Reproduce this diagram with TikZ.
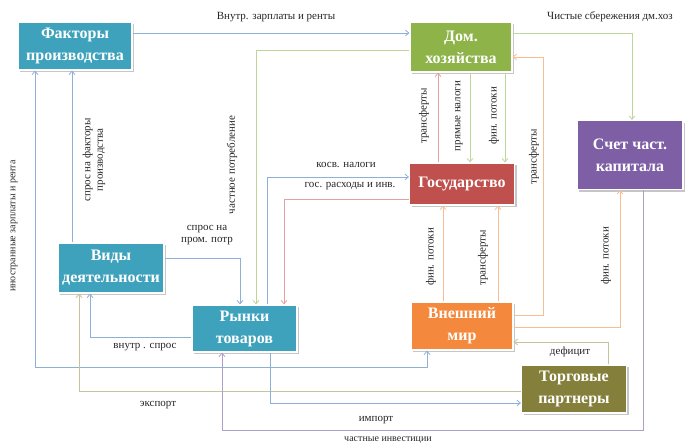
\documentclass[tikz,border=0pt]{standalone}
\usepackage{fontspec}
\setmainfont{Liberation Serif}
\usetikzlibrary{arrows.meta,shadows}
\definecolor{tealbox}{HTML}{3FA2BC}
\definecolor{greenbox}{HTML}{8DB349}
\definecolor{redbox}{HTML}{C0504D}
\definecolor{purplebox}{HTML}{7E5FA6}
\definecolor{orangebox}{HTML}{F4893E}
\definecolor{olivebox}{HTML}{857F3C}
\definecolor{blueln}{HTML}{8EAFD6}
\definecolor{greenln}{HTML}{C0D59A}
\definecolor{redln}{HTML}{E0A3A2}
\definecolor{orangeln}{HTML}{F8BE93}
\definecolor{purpleln}{HTML}{ADA0C8}
\definecolor{oliveln}{HTML}{C6C29C}
\begin{document}
\begin{tikzpicture}[x=1pt,y=-1pt,
  box/.style={draw=white,line width=1.2pt,inner sep=0pt,align=center,text=white,
    font=\fontsize{16}{22}\selectfont\bfseries,
    drop shadow={shadow xshift=2pt,shadow yshift=-2pt,opacity=0.45}},
  lbl/.style={font=\fontsize{11}{12.5}\selectfont,text=black!85,inner sep=1pt,align=center},
  vlbl/.style={lbl,rotate=90},
  ln/.style={line width=0.8pt,-{Straight Barb[length=3.5pt,width=6pt]}},
  blue/.style={ln,draw=blueln},
  green/.style={ln,draw=greenln},
  red/.style={ln,draw=redln},
  orange/.style={ln,draw=orangeln},
  purple/.style={ln,draw=purpleln},
  olive/.style={ln,draw=oliveln}]
\useasboundingbox (0,0) rectangle (686,445);
% boxes
\node[box,fill=tealbox,minimum width=114pt,minimum height=48pt] (fak) at (75,46) {Факторы\\производства};
\node[box,fill=greenbox,minimum width=102pt,minimum height=50pt] (dom) at (461,47) {Дом.\\хозяйства};
\node[box,fill=redbox,minimum width=105pt,minimum height=42pt] (gos) at (462,184) {Государство};
\node[box,fill=purplebox,minimum width=106pt,minimum height=69pt] (sch) at (630,155) {Счет част.\\капитала};
\node[box,fill=tealbox,minimum width=106pt,minimum height=50pt] (vid) at (111,268) {Виды\\деятельности};
\node[box,fill=tealbox,minimum width=105pt,minimum height=47pt] (ryn) at (244.5,328.5) {Рынки\\товаров};
\node[box,fill=orangebox,minimum width=102pt,minimum height=48pt] (vne) at (462,326) {Внешний\\мир};
\node[box,fill=olivebox,minimum width=105pt,minimum height=48pt] (tor) at (574,389) {Торговые\\партнеры};
% connectors
\draw[blue] (fak.east |- 0,33) -- (dom.west |- 0,33);
\draw[green] (dom.west |- 0,50) -| (ryn.north -| 256,0);
\draw[green] (dom.east |- 0,33) -| (sch.north -| 632,0);
\draw[red] (gos.north -| 438,0) -- (dom.south -| 438,0);
\draw[green] (dom.south -| 470,0) -- (gos.north -| 470,0);
\draw[green] (dom.south -| 505,0) -- (gos.north -| 505,0);
\draw[orange] (vne.east |- 0,315) -- ++(30,0) |- (dom.east |- 0,57);
\draw[orange] (vne.east |- 0,327) -| (sch.south -| 620,0);
\draw[orange] (vne.north -| 443,0) -- (gos.south -| 443,0);
\draw[orange] (vne.north -| 498,0) -- (gos.south -| 498,0);
\draw[blue] (ryn.north -| 267,0) |- (gos.west |- 0,177);
\draw[red] (gos.west |- 0,199) -| (ryn.north -| 284,0);
\draw[blue] (vid.east |- 0,258) -| (ryn.north -| 240,0);
\draw[blue] (ryn.west |- 0,337) -| (vid.south -| 90,0);
\draw[blue] (vid.north -| 72,0) -- (fak.south -| 72,0);
\draw[blue,{Straight Barb[length=3.5pt,width=6pt]}-{Straight Barb[length=3.5pt,width=6pt]}]
  (fak.south -| 35,0) -- (35,367) -| (vne.south -| 427,0);
\draw[olive] (tor.west |- 0,391) -| (vid.south -| 79,0);
\draw[blue] (ryn.south -| 270,0) |- (tor.west |- 0,403);
\draw[purple] (sch.south -| 643,0) -- (643,430) -| (ryn.south -| 222,0);
\draw[olive] (tor.north -| 608,0) |- (vne.east |- 0,342);
% labels
\node[lbl] (l1) at (276,17) {Внутр. зарплаты и ренты};
\node[lbl] (l2) at (610,17) {Чистые сбережения дм.хоз};
\node[vlbl,font=\fontsize{10}{11}\selectfont] (l3) at (14,226) {иностранные зарплаты и рента};
\node[vlbl] (l4) at (94,160) {спрос на факторы\\производства};
\node[vlbl] (l5) at (232,165) {частное потребление};
\node[vlbl] (l6) at (424,116) {трансферты};
\node[vlbl] (l7) at (459,116) {прямые налоги};
\node[vlbl] (l8) at (494,116) {фин. потоки};
\node[vlbl] (l9) at (534,157) {трансферты};
\node[vlbl] (l10) at (431,257) {фин. потоки};
\node[vlbl] (l11) at (483,258) {трансферты};
\node[vlbl] (l12) at (606,256) {фин. потоки};
\node[lbl] (l13) at (346,165) {косв. налоги};
\node[lbl] (l14) at (350,186) {гос. расходы и инв.};
\node[lbl] (l15) at (207,235) {спрос на\\пром. потр};
\node[lbl] (l16) at (145,347) {внутр . спрос};
\node[lbl] (l17) at (158,405) {экспорт};
\node[lbl] (l18) at (376,420) {импорт};
\node[lbl,font=\fontsize{10}{11}\selectfont] (l19) at (388,440) {частные инвестиции};
\node[lbl] (l20) at (570,352) {дефицит};
\end{tikzpicture}
\end{document}
